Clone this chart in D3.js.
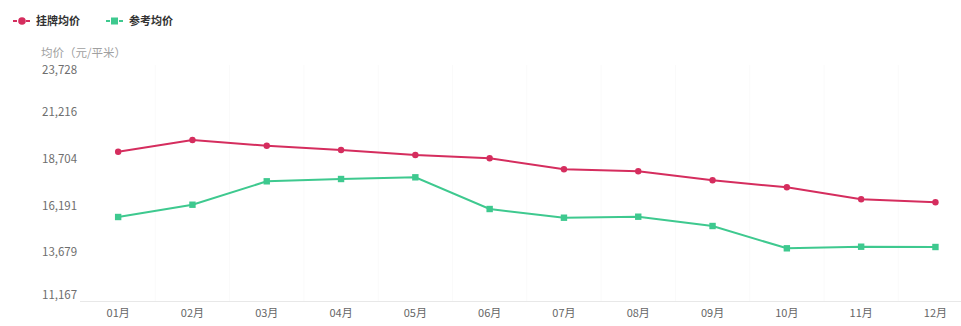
<!DOCTYPE html>
<html><head><meta charset="utf-8">
<script src="https://cdn.jsdelivr.net/npm/d3@7"></script>
<style>
html,body{margin:0;padding:0;background:#fff;}
svg{display:block;font-family:"Microsoft YaHei","Noto Sans CJK SC",sans-serif;}
</style></head>
<body><svg id="chart" width="961" height="326"></svg>
<script>
const months = ["01月","02月","03月","04月","05月","06月","07月","08月","09月","10月","11月","12月"];
const listingPrice = [19090,19720,19413,19182,18913,18735,18144,18036,17552,17175,16530,16369];
const referencePrice = [15578,16239,17498,17622,17713,16008,15540,15594,15094,13894,13980,13964];
const yTicks = [11167,13679,16191,18704,21216,23728];
const seriesNames = ["挂牌均价","参考均价"];
const yTitle = "均价（元/平米）";

const red = "#d52d5e", green = "#3ec98f";
const svg = d3.select("#chart");

const x = d3.scaleBand().domain(months).range([81, 81 + 74.3*12]);
const y = d3.scaleLinear().domain([11167, 23728]).range([299, 65.5]);

// faint vertical grid at band boundaries
svg.append("g").selectAll("line").data(months.slice(1)).join("line")
  .attr("x1", d => x(d)).attr("x2", d => x(d))
  .attr("y1", 65).attr("y2", 301)
  .attr("stroke", "#fafafa").attr("stroke-width", 1);

// x axis line
svg.append("line").attr("x1", 80).attr("x2", 961).attr("y1", 301.5).attr("y2", 301.5)
  .attr("stroke", "#e8e8e8").attr("stroke-width", 1);

// x labels
svg.append("g").selectAll("text").data(months).join("text")
  .attr("x", d => x(d) + x.bandwidth()/2).attr("y", 317)
  .attr("text-anchor", "middle").attr("font-size", 11).attr("fill", "#666")
  .text(d => d);

// y labels
svg.append("g").selectAll("text").data(yTicks).join("text")
  .attr("x", 42)
  .attr("y", (d, i) => y(d) + 4 + (i === 0 ? -4 : 0) + (i === yTicks.length-1 ? 4 : 0))
  .attr("font-size", 11.5).attr("fill", "#6e6e6e")
  .text(d => d3.format(",")(d));

svg.append("text").attr("x", 41).attr("y", 57).attr("font-size", 11.5).attr("fill", "#a0a0a0")
  .text(yTitle);

const line = d3.line().x((d, i) => x(months[i]) + x.bandwidth()/2).y(d => y(d));

svg.append("path").datum(listingPrice).attr("d", line)
  .attr("fill", "none").attr("stroke", red).attr("stroke-width", 2);
svg.append("path").datum(referencePrice).attr("d", line)
  .attr("fill", "none").attr("stroke", green).attr("stroke-width", 2);

svg.append("g").selectAll("circle").data(listingPrice).join("circle")
  .attr("cx", (d, i) => x(months[i]) + x.bandwidth()/2).attr("cy", d => y(d))
  .attr("r", 3.2).attr("fill", red);
svg.append("g").selectAll("rect").data(referencePrice).join("rect")
  .attr("x", (d, i) => x(months[i]) + x.bandwidth()/2 - 3.2).attr("y", d => y(d) - 3.2)
  .attr("width", 6.4).attr("height", 6.4).attr("fill", green);

// legend
const legend = [
  {name: seriesNames[0], color: red, shape: "circle", x0: 13},
  {name: seriesNames[1], color: green, shape: "square", x0: 106}
];
const lg = svg.append("g").selectAll("g").data(legend).join("g")
  .attr("transform", d => `translate(${d.x0},21)`);
lg.append("line").attr("x1", 0).attr("x2", 17).attr("y1", 0).attr("y2", 0)
  .attr("stroke", d => d.color).attr("stroke-width", 2).attr("stroke-dasharray", "4,2.5,4,2.5");
lg.filter(d => d.shape === "circle").append("circle").attr("cx", 9).attr("cy", 0).attr("r", 3.8)
  .attr("fill", d => d.color);
lg.filter(d => d.shape === "square").append("rect").attr("x", 5).attr("y", -3.5)
  .attr("width", 7).attr("height", 7).attr("fill", d => d.color);
lg.append("text").attr("x", 23).attr("y", 4).attr("font-size", 11).attr("font-weight", "bold")
  .attr("fill", "#333").text(d => d.name);
</script>
</body></html>
